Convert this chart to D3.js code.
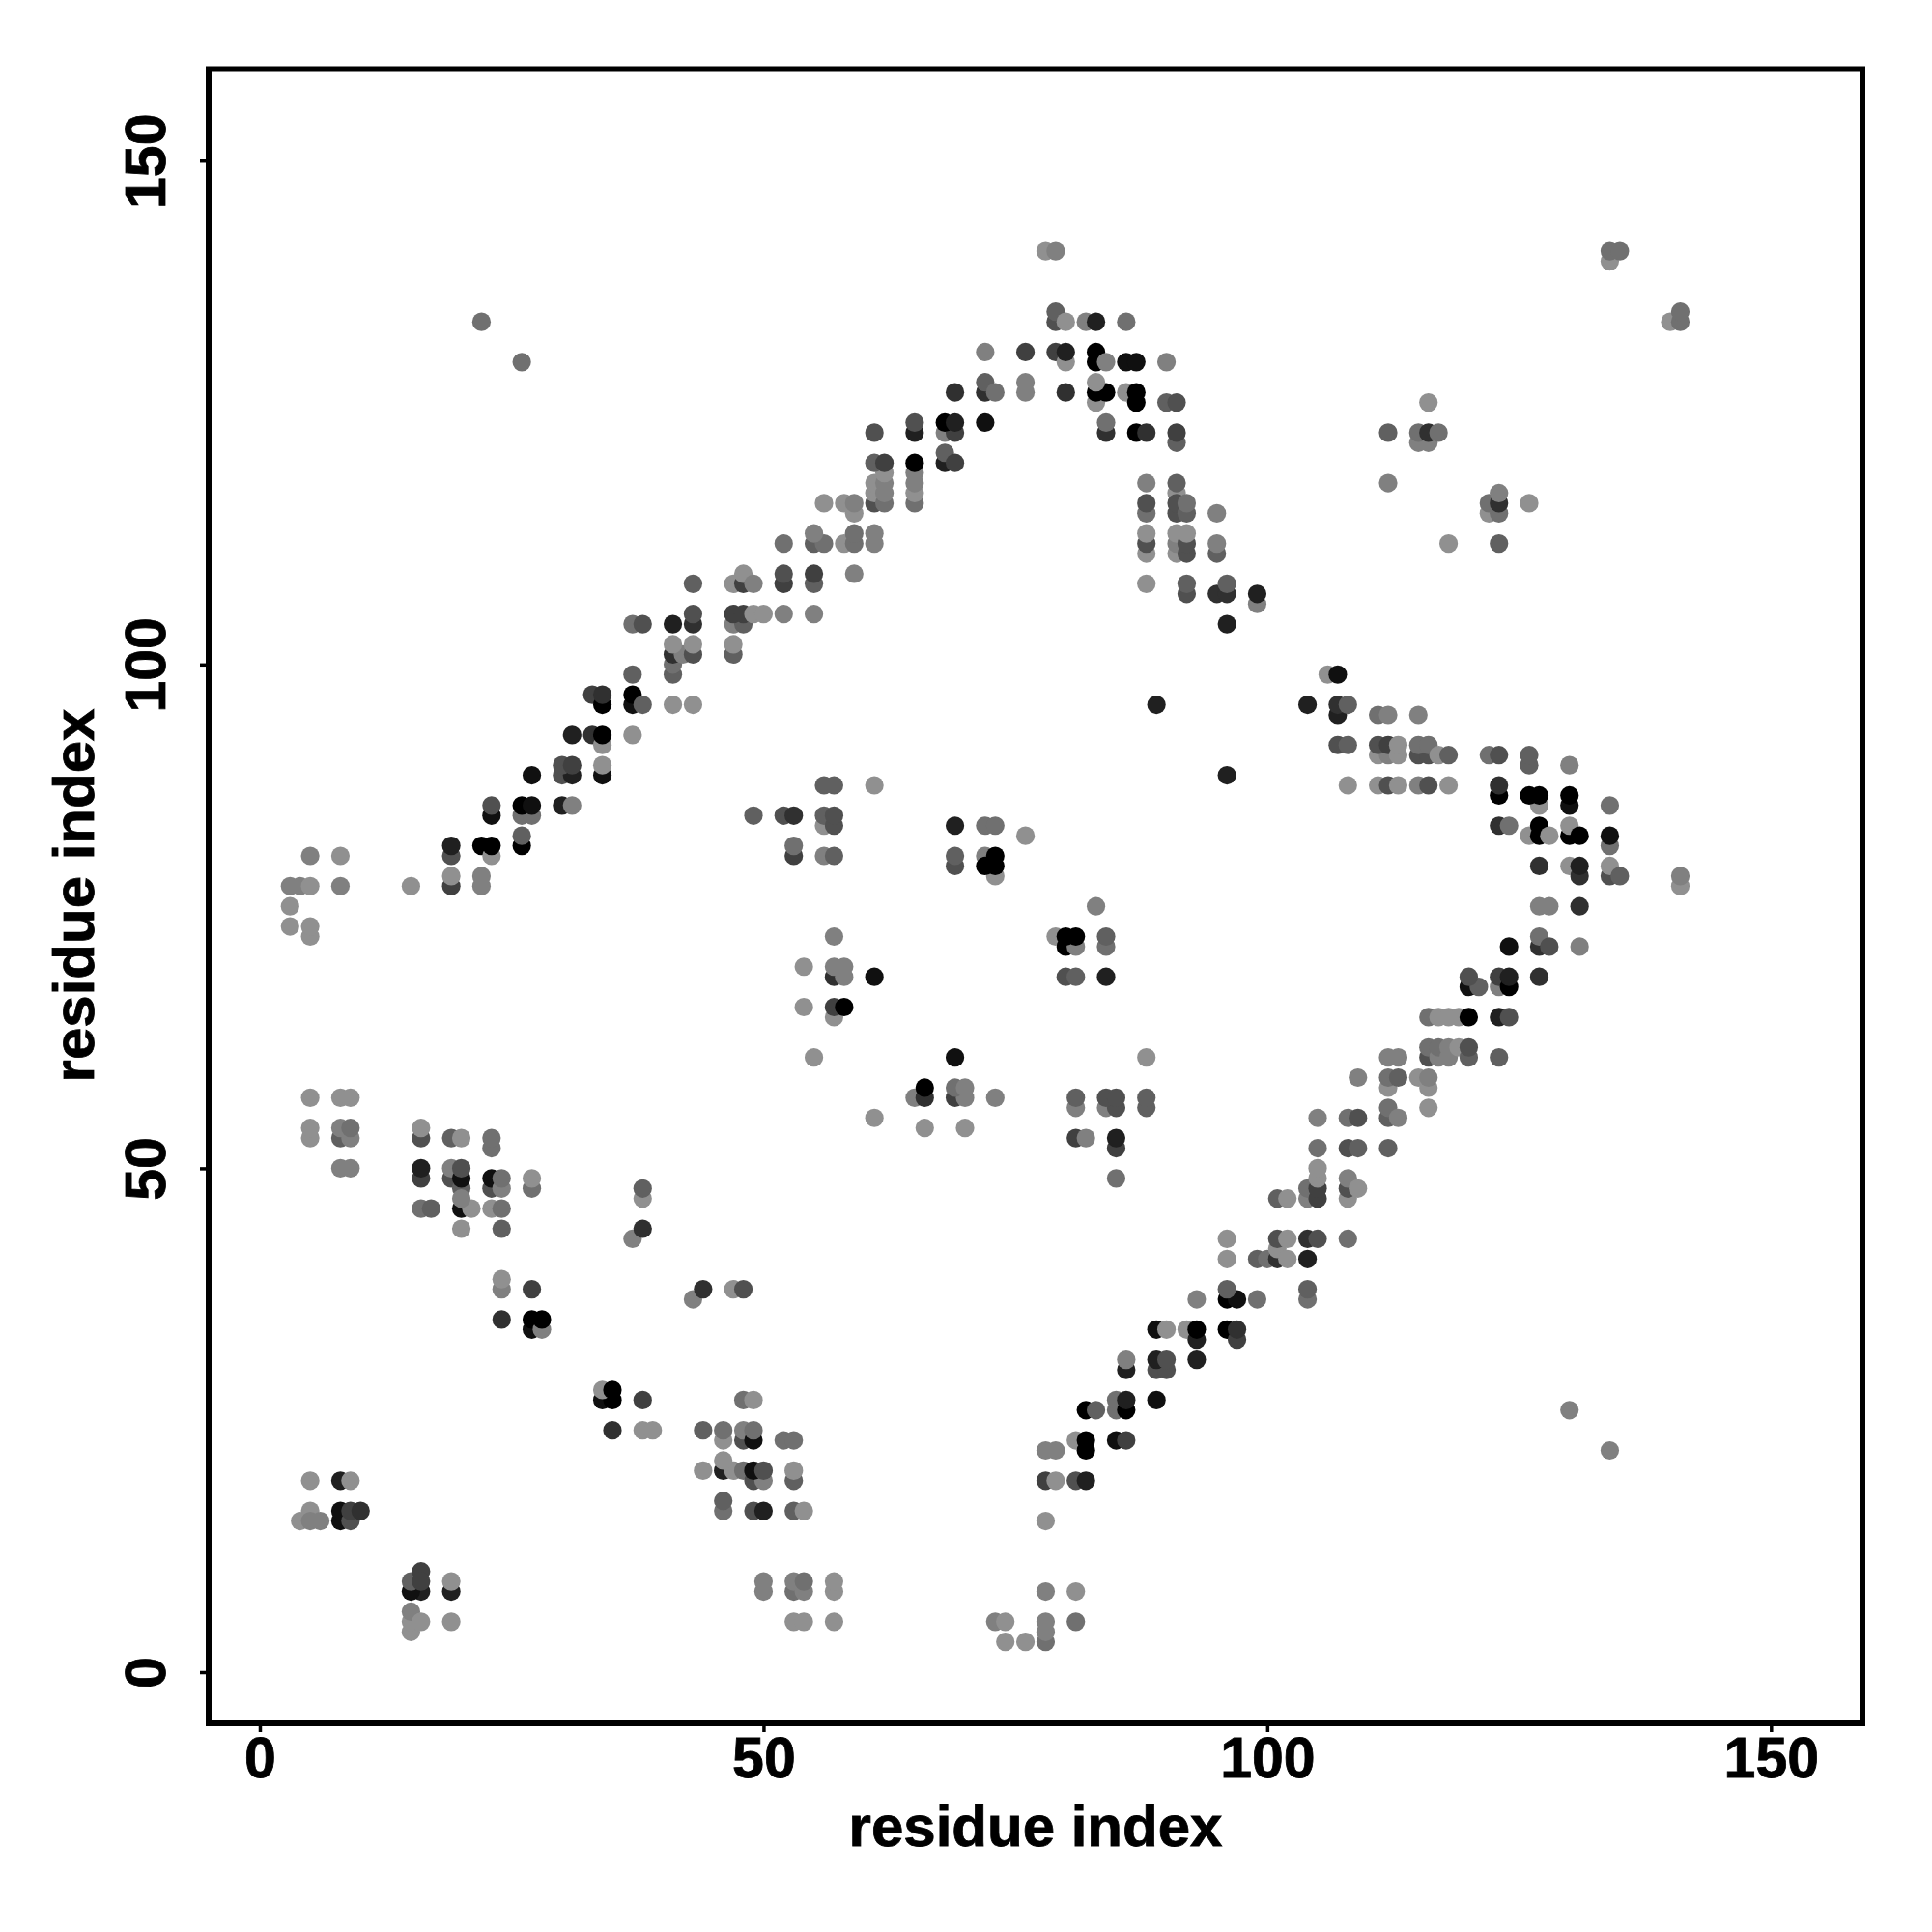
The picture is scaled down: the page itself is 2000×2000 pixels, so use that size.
<!DOCTYPE html>
<html>
<head>
<meta charset="utf-8">
<script src="https://cdnjs.cloudflare.com/ajax/libs/d3/7.8.5/d3.min.js"></script>
<style>html,body{margin:0;background:#fff}</style>
</head>
<body>
<div id="chart"></div>
<script>
// Each contact is [residue x, residue y, strength 0 (weak) .. 9 (strong)], later entries paint on top.
const xTicks = [0, 50, 100, 150];
const yTicks = [0, 50, 100, 150];
const axisTitle = "residue index";

const leftBlock = [[5,57,0],[8,57,0],[9,57,0],[5,53,0],[5,54,0],[8,53,3],[8,54,1],[9,53,1],[9,54,2],
[16,53,4],[16,54,0],[19,53,3],[20,53,0],[23,52,2],[23,53,2],[8,50,1],[9,50,1],
[16,49,5],[16,50,7],[19,49,4],[19,50,1],[20,48,3],[20,49,8],[20,50,4],[20,44,0],[20,46,8],[21,46,0],[20,47,1],
[16,46,2],[17,46,3],[23,48,4],[23,49,8],[24,48,1],[24,49,2],[27,48,2],[27,49,0],[23,46,0],[24,46,2],[24,44,3],
[38,47,0],[38,48,3],[37,43,1],[38,44,6]];

const midLeft = [[24,38,1],[24,39,0],[27,38,5],[24,35,6],[27,34,8],[27,35,9],[28,34,1],[28,35,9],
[43,37,1],[44,38,6],[47,38,0],[48,38,4],[34,27,8],[35,27,9],[34,28,0],[35,28,9],[38,27,5],[35,24,6],[38,24,0],[39,24,0]];

const lowerLeft = [[5,19,0],[8,19,7],[9,19,0],[5,16,0],[4,15,0],[5,15,1],[6,15,1],[8,15,8],[8,16,8],[9,15,4],[9,16,5],[10,16,6],
[16,8,7],[15,8,8],[15,9,3],[16,10,5],[16,9,5],[19,8,7],[19,9,0],[15,4,0],[15,5,0],[15,6,1],[16,5,0],[19,5,0]];

const lowerMiddle = [[44,24,3],[46,23,0],[46,24,2],[48,23,4],[48,24,1],[49,23,8],[49,24,2],[52,23,2],[53,23,2],[48,27,2],[49,27,0],
[44,20,0],[46,20,7],[47,20,0],[46,21,0],[48,20,2],[49,19,4],[50,19,1],[49,20,8],[50,20,4],[53,19,3],[53,20,0],
[46,16,2],[46,17,3],[49,16,4],[50,16,7],[53,16,3],[54,16,0],
[50,8,1],[50,9,1],[53,8,2],[53,9,1],[54,8,1],[54,9,2],[57,8,0],[57,9,0],[53,5,0],[54,5,0],[57,5,0],
[73,5,1],[74,5,0],[74,3,0],[76,3,0],[78,3,2],[78,4,1],[78,5,1],[78,8,1],[81,8,0],[81,5,2],[78,15,0]];

const lowerDiagonal = [[78,19,5],[79,19,0],[81,19,4],[82,19,7],[78,22,1],[79,22,1],[81,23,0],[82,22,9],[82,23,9],[85,23,8],[86,23,5],
[82,26,9],[83,26,3],[85,26,2],[85,27,2],[86,26,9],[86,27,7],[89,27,8],
[86,30,7],[86,31,1],[89,30,4],[90,30,4],[89,31,7],[90,31,4],[93,31,7],
[89,34,8],[90,34,0],[92,34,0],[93,33,7],[93,34,9],[96,34,9],[97,33,5],[97,34,6],
[93,37,1],[96,37,9],[97,37,8],[96,38,3],[99,37,2],
[96,41,0],[96,43,0],[99,41,3],[100,41,2],[101,41,6],[101,42,0],[102,41,0],[101,43,4],[102,43,0],[104,41,7],[104,43,6],[105,43,4],[108,43,2],
[104,37,2],[104,38,3],
[101,47,3],[102,47,0],[104,47,1],[104,48,2],[105,47,5],[105,48,5],[105,49,0],[105,50,0],[108,47,0],[108,48,4],[108,49,1],[109,48,0],
[105,52,2],[108,52,4],[109,52,3],[112,52,3],
[105,55,1],[108,55,2],[109,55,4],[112,55,3],[112,56,2],[113,55,1],
[109,59,1],[112,58,0],[112,59,2],[113,59,3],[115,59,0],[116,58,0],[116,59,1],[116,56,0],
[112,61,1],[113,61,1],[116,61,4],[116,62,2],[117,61,1],[117,62,2],[118,61,1],[118,62,1],[119,62,0],[120,61,3],[120,62,4],[123,61,3],
[116,65,2],[117,65,0],[118,65,0],[119,65,0],[120,65,9],[123,65,7],[124,65,4],
[120,68,8],[121,68,3],[120,69,4],[123,68,1],[123,69,5],[124,68,9],[124,69,7],[127,69,6],
[124,72,8],[127,72,6],[127,73,2],[128,72,4],[131,72,1],
[127,76,1],[128,76,1],[131,76,6]];

const rightArc = [[127,80,6],[130,80,0],[131,79,6],[131,80,7],[134,79,4],[134,80,0],[135,79,3],[141,78,0],[141,79,1],
[123,84,6],[124,84,2],[126,83,0],[127,84,9],[127,83,9],[128,83,0],[130,83,9],[130,84,0],[131,83,9],[134,82,2],[134,83,8],
[123,87,9],[123,88,6],[127,86,0],[126,87,9],[127,87,9],[130,86,8],[130,87,9],[134,86,2],
[122,91,2],[123,91,4],[126,90,3],[126,91,3],[130,90,1],[130,26,1],[134,22,1]];

const rightBands = [[89,96,7],[96,89,7],[104,96,7],[107,95,7],[107,96,6],[108,96,3],[106,99,0],[107,99,8],[111,95,2],[112,95,1],[115,95,1],
[107,92,4],[108,92,3],[111,91,0],[112,91,1],[111,92,4],[112,92,5],[113,91,0],[113,92,0],[115,91,4],[116,91,4],[115,92,2],[116,92,2],[117,91,0],[118,91,3],
[108,88,0],[111,88,0],[112,88,4],[113,88,0],[115,88,1],[116,88,4],[118,88,0]];

const upperRight = [[112,118,1],[112,123,3],[115,122,1],[116,122,1],[115,123,2],[116,123,6],[117,123,2],[116,126,0],[118,112,0],
[122,115,0],[123,115,2],[122,116,2],[123,116,6],[123,117,1],[126,116,0],[123,112,3],
[134,140,0],[134,141,2],[135,141,2],[140,134,0],[141,134,2],[141,135,2],[22,134,2],[26,130,2]];

const upperDiagonalLow = [[3,78,1],[4,78,1],[5,78,0],[8,78,1],[15,78,0],[5,81,1],[8,81,0],[3,76,0],[3,74,0],[5,73,0],[5,74,0],
[19,78,5],[19,79,0],[22,78,1],[22,79,1],[19,81,4],[19,82,7],[22,82,9],[23,81,0],[23,82,9],[26,82,9],[26,83,3],
[23,85,8],[23,86,4],[26,85,2],[27,85,2],[26,86,9],[27,86,8],[30,86,7],[31,86,1],
[27,89,8],[30,89,4],[31,89,7],[30,90,4],[31,90,5],[34,89,8],[34,90,0],
[31,93,7],[33,93,6],[34,92,0],[34,93,9],[37,93,0],
[33,97,5],[34,96,9],[34,97,6],[37,96,8],[37,97,9],[38,96,3],[41,96,0],[43,96,0],[37,99,3],
[37,104,2],[38,104,4],[41,104,7],[43,104,6],[43,105,4],
[41,99,3],[41,100,2],[41,101,6],[42,101,1],[43,101,4],[41,102,0],[43,102,0],[47,101,3],[47,102,0],
[47,104,1],[48,104,3],[47,105,5],[48,105,5],[49,105,0],[50,105,0],[52,105,1],[55,105,1]];

const upperDiagonalHigh = [[43,108,3],[47,108,0],[48,108,5],[48,109,0],[49,108,1],[52,108,5],[52,109,4],[55,108,3],[55,109,5],[59,109,1],
[52,112,2],[55,112,3],[56,112,2],[55,113,1],[58,112,0],[59,112,2],[59,113,2],[61,112,1],[61,113,1],
[56,116,0],[58,116,0],[59,115,0],[59,116,1],
[61,116,4],[61,117,0],[61,118,0],[62,116,2],[62,117,1],[62,118,1],[62,119,0],[65,116,2],[65,117,0],[65,118,1],[65,119,1],
[61,120,3],[62,120,5],[65,120,9],[68,120,7],[68,121,3],[69,120,5],[61,123,4],[65,123,7],[65,124,4],[68,123,1],[69,123,5],[68,124,9],[69,124,7],[72,124,8],
[69,127,6],[72,127,6],[72,128,3],[73,127,2],[72,131,1],[76,127,1],[76,128,1],[76,131,5],
[79,131,5],[80,130,0],[80,131,7],[80,127,6],[79,134,4],[79,135,3],[80,134,0],[82,134,1],[83,134,7],[86,134,2],[78,141,0],[79,141,1]];

const apexRight = [[83,131,9],[83,130,9],[84,130,1],[86,130,8],[87,130,8],[90,130,1],
[83,126,0],[83,127,9],[84,127,9],[83,128,0],[86,127,0],[87,126,9],[87,127,9],[90,126,3],[91,126,4],
[84,123,6],[84,124,2],[87,123,9],[88,123,6],[91,122,3],[91,123,5],
[88,118,1],[91,117,0],[91,118,3],[88,115,2],[88,116,4],[91,115,4],[91,116,4],[92,115,3],[92,116,2],[95,115,1],
[88,111,0],[88,112,4],[88,113,0],[91,111,0],[91,112,1],[91,113,0],[92,111,4],[92,112,4],[92,113,0],[95,111,3],[95,112,1],
[88,108,0],[92,107,4],[92,108,3],[95,107,6],[96,107,6],[96,108,3],[99,106,1],[99,107,7],[96,104,7]];

const centralUpper = [[56,88,3],[57,88,3],[61,88,0],[49,85,3],[52,85,4],[53,85,6],[56,84,0],[56,85,3],[57,84,4],[57,85,4],[53,81,5],[53,82,2],[56,81,1],[57,81,3],
[69,84,7],[72,84,2],[73,84,2],[76,83,0],[69,80,4],[69,81,3],[73,79,0],[72,81,1],[72,80,9],[73,80,9],[73,81,9],
[83,76,1],[79,73,0],[80,72,9],[81,72,1],[80,73,9],[81,73,9],[84,72,2],[84,73,3],[80,69,4],[81,69,3],[84,69,7]];

const centralLower = [[57,73,1],[54,70,0],[57,69,6],[58,69,1],[57,70,1],[58,70,1],[61,69,8],[54,66,0],[57,65,0],[57,66,5],[58,66,9],
[55,61,0],[69,61,8],[88,61,0],[65,57,1],[66,57,6],[66,58,9],[69,57,5],[70,57,1],[69,58,2],[70,58,1],[73,57,1],[61,55,0],[66,54,0],[70,54,0],
[81,56,1],[81,57,3],[84,56,1],[85,56,4],[84,57,4],[85,57,4],[88,56,3],[88,57,3],[81,53,5],[82,53,1],[85,52,5],[85,53,7],[85,49,2]];

const contacts = [].concat(leftBlock, midLeft, lowerLeft, lowerMiddle, lowerDiagonal, rightArc, rightBands,
  upperRight, upperDiagonalLow, upperDiagonalHigh, apexRight, centralUpper, centralLower);

const font = "'Liberation Sans', Arial, Helvetica, sans-serif";
const svg = d3.select("#chart").append("svg").attr("width", 2000).attr("height", 2000)
  .style("display", "block").style("background", "#fff");

const x = d3.scaleLinear().domain([-5.08, 159.08]).range([216, 1928]);
const y = d3.scaleLinear().domain([-5.08, 159.08]).range([1784, 71.5]);
const gray = d3.scaleLinear().domain([0, 9]).range([144, 0]);

svg.append("g").selectAll("circle").data(contacts).join("circle")
  .attr("cx", d => x(d[0])).attr("cy", d => y(d[1])).attr("r", 9.6)
  .attr("fill", d => { const g = Math.round(gray(d[2])); return `rgb(${g},${g},${g})`; });

svg.append("rect").attr("x", 216).attr("y", 71.5).attr("width", 1712).attr("height", 1712.5)
  .attr("fill", "none").attr("stroke", "#000").attr("stroke-width", 6);

const gx = svg.append("g").attr("transform", "translate(0,1784)")
  .call(d3.axisBottom(x).tickValues(xTicks).tickSize(9).tickPadding(4).tickFormat(d3.format("d")));
const gy = svg.append("g").attr("transform", "translate(216,0)")
  .call(d3.axisLeft(y).tickValues(yTicks).tickSize(9).tickPadding(0).tickFormat(d3.format("d")));
[gx, gy].forEach(g => {
  g.select(".domain").remove();
  g.selectAll(".tick line").attr("stroke", "#000").attr("stroke-width", 3.5);
  g.selectAll(".tick text").attr("fill", "#000").attr("stroke", "#000").attr("stroke-width", 0.8)
    .style("font-family", font).style("font-weight", "bold").style("font-size", "59px");
});
gx.selectAll(".tick text").attr("y", 0).attr("dy", 0)
  .attr("transform", "translate(0,56)");
gy.selectAll(".tick text").attr("x", 0).attr("dy", 0)
  .style("text-anchor", "middle")
  .attr("transform", "translate(-45,0) rotate(-90)");

svg.append("text").attr("x", 1072).attr("y", 1911).attr("text-anchor", "middle")
  .attr("stroke", "#000").attr("stroke-width", 0.8)
  .style("font-family", font).style("font-weight", "bold").style("font-size", "60px").attr("fill", "#000")
  .text(axisTitle);
svg.append("text").attr("transform", "translate(97,927) rotate(-90)").attr("text-anchor", "middle")
  .attr("stroke", "#000").attr("stroke-width", 0.8)
  .style("font-family", font).style("font-weight", "bold").style("font-size", "60px").attr("fill", "#000")
  .text(axisTitle);
</script>
</body>
</html>
